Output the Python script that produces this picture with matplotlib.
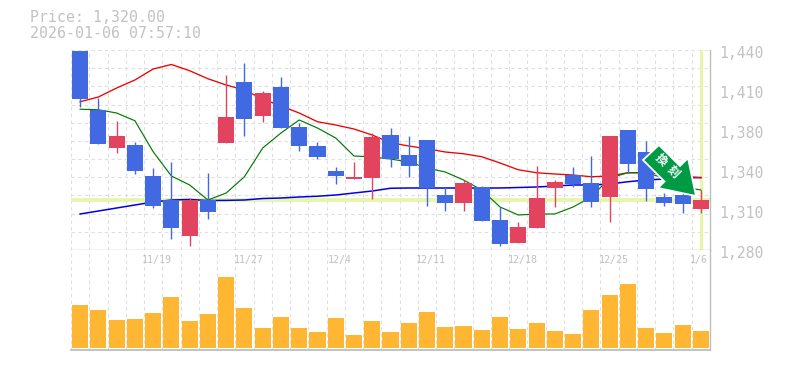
import matplotlib
matplotlib.use("Agg")
import matplotlib.pyplot as plt
from matplotlib.patches import Polygon, Rectangle
from matplotlib.transforms import offset_copy

W, H = 785, 370
MONO = "DejaVu Sans Mono"
GRAY = "#c2c2c2"
GRID = "#dedede"
FRAME = "#bdbdbd"
UP = "#e2445f"
DOWN = "#4169e1"
VOLC = "#ffb733"
GUIDE = "#e6f5a8"

title_lines = ["Price: 1,320.00", "2026-01-06 07:57:10"]
price_ticks = [1440, 1408, 1376, 1344, 1312, 1280]
price_labels = ["1,440", "1,410", "1,380", "1,340", "1,310", "1,280"]
date_pos = [4, 9, 14, 19, 24, 29, 34]
date_labels = ["11/19", "11/27", "12/4", "12/11", "12/18", "12/25", "1/6"]
last_price = 1320

body_top = [1439.4, 1392, 1371.2, 1364, 1339.2, 1320, 1320, 1320, 1386.4, 1414.4, 1405.6, 1410.4,
            1378.4, 1363.2, 1343.2, 1338.4, 1370.4, 1372, 1356, 1368, 1324, 1333.6, 1330.4, 1304,
            1298.4, 1321.6, 1334.4, 1340, 1333.6, 1371.2, 1376, 1358.4, 1322.4, 1324, 1320]
body_bot = [1400.8, 1365, 1361.8, 1343.2, 1315.2, 1297.6, 1291.2, 1310.4, 1365.6, 1385, 1387.2, 1377.6,
            1363.2, 1354.4, 1339.2, 1336.8, 1337.6, 1352.8, 1347.2, 1329.6, 1317.6, 1317.6, 1303.2, 1284.8,
            1285.6, 1297.6, 1329.6, 1332.8, 1318.4, 1322.4, 1348.8, 1328.8, 1317.6, 1316.8, 1312.8]
high = [1439.4, 1401.6, 1383.2, 1366.4, 1345.6, 1350.4, 1321.6, 1341.6, 1420, 1429.6, 1407.2, 1418.4,
        1381.6, 1366.4, 1346.4, 1350.4, 1373.6, 1377.6, 1371.2, 1368, 1330.4, 1336, 1331.2, 1314.4,
        1302.4, 1347.2, 1336, 1346.4, 1355.2, 1371.2, 1376, 1367.2, 1325.6, 1325.6, 1328]
low = [1394.6, 1365, 1357.8, 1340.8, 1313.6, 1288.8, 1283.2, 1304.8, 1365.6, 1371.2, 1382.4, 1377.6,
       1359.2, 1352.8, 1332.8, 1336.8, 1320.8, 1346.4, 1338.4, 1315.2, 1311.2, 1311.2, 1303.2, 1283.2,
       1285.6, 1297.6, 1314.4, 1330.4, 1314.4, 1302.4, 1341.6, 1319.2, 1315.2, 1309.6, 1309.6]
is_up = [0, 0, 1, 0, 0, 0, 1, 0, 1, 0, 1, 0,
         0, 0, 0, 1, 1, 0, 0, 0, 0, 1, 0, 0,
         1, 1, 1, 0, 0, 1, 0, 0, 0, 0, 1]
ma_short = [1392.6, 1392.2, 1389.6, 1383.4, 1358.6, 1339.2, 1332, 1320, 1325.6, 1338.6, 1361.6, 1373.6,
            1384, 1377.6, 1369.6, 1355.2, 1354.4, 1352.8, 1350.4, 1345.6, 1342.4, 1336, 1328, 1314.4,
            1308, 1308.8, 1308.8, 1314.4, 1322.4, 1337.6, 1341.8, 1341.8, 1337.6, 1330.4, 1328]
ma_mid = [1398.6, 1402.4, 1409.6, 1416, 1424.8, 1428.4, 1423.4, 1417, 1412, 1408, 1400.8, 1395.2,
          1389.6, 1382.6, 1380, 1376.8, 1372, 1365.8, 1363.2, 1361, 1358.4, 1357, 1354.6, 1349.6,
          1344.2, 1341.8, 1340.8, 1340, 1338.6, 1339.2, 1341.8, 1341.8, 1340.8, 1339.2, 1337.8]
ma_long = [1308.8, 1311.2, 1313.6, 1316, 1318.4, 1320, 1320.4, 1319.6, 1319.7, 1320, 1321.2, 1321.6,
           1322.4, 1323, 1324, 1325.6, 1327.2, 1329.4, 1329.6, 1329.6, 1329.6, 1329.6, 1329.6, 1329.6,
           1330, 1330.4, 1331.2, 1332, 1332, 1332.8, 1334.6, 1336, 1336.8, 1337.6, 1338]
volume = [43, 38, 28, 29, 35, 51, 27, 34, 71, 40, 20, 31, 20, 16, 30, 13, 27, 16,
          25, 36, 21, 22, 18, 31, 19, 25, 17, 14, 38, 53, 64, 20, 15, 23, 17]
badge_text = "換刻"

fig = plt.figure(figsize=(W / 100, H / 100), dpi=100, facecolor="white")
def axes_px(x0, y0, x1, y1):
    return fig.add_axes([x0 / W, 1 - y1 / H, (x1 - x0) / W, (y1 - y0) / H])

XL, XR = 71, 710
ax = axes_px(XL, 50, XR, 250)
vol = axes_px(XL, 250, XR, 350)
n = len(volume)
GRID_STYLE = dict(color=GRID, lw=0.8, ls=(0, (3, 3)))
for a in (ax, vol):
    a.set_xlim(-0.5, n - 0.5)
    for s in a.spines.values():
        s.set_visible(False)
    a.tick_params(length=0, labelbottom=False, labelleft=False)
    a.set_xticks([i - 0.5 for i in range(n)])
    a.grid(axis="x", **GRID_STYLE)
    a.set_axisbelow(True)
    a.spines["right"].set_visible(True)
    a.spines["right"].set_color(FRAME)
    a.spines["right"].set_linewidth(1.0)

ax.set_ylim(1280, 1440)
ax.set_yticks([1280 + 160 * k / 11 for k in range(12)])
ax.grid(axis="y", **GRID_STYLE)
ax.spines["bottom"].set_visible(True)
ax.spines["bottom"].set_color(FRAME)
ax.spines["bottom"].set_linewidth(1.0)

ax.axhline(last_price, color=GUIDE, lw=2.7, zorder=1)
ax.axvline(n - 1, color=GUIDE, lw=2.2, zorder=1)

xs = list(range(n))
ax.plot(xs, ma_long, color="#0000e6", lw=1.1, zorder=2)
ax.plot(xs, ma_mid, color="#f00000", lw=0.95, zorder=2)
ax.plot(xs, ma_short, color="#007a00", lw=0.85, zorder=2)

for i in xs:
    c = UP if is_up[i] else DOWN
    ax.plot([i, i], [low[i], high[i]], color=c, lw=1.0, zorder=3, solid_capstyle="butt")
    ax.add_patch(Rectangle((i - 0.44, body_bot[i]), 0.88, body_top[i] - body_bot[i],
                           facecolor=c, edgecolor="none", zorder=4))

vol.set_ylim(-2, 98)
vol.bar(xs, volume, width=0.88, color=VOLC, zorder=3)
vol.spines["bottom"].set_visible(True)
vol.spines["bottom"].set_color(FRAME)
vol.spines["bottom"].set_linewidth(1.3)

for p, lab in zip(date_pos, date_labels):
    last = p == date_pos[-1]
    tr = offset_copy(vol.get_xaxis_transform(), fig=fig, x=(-2 if last else 4), y=-10, units="dots")
    vol.text(p, 1, lab, transform=tr, ha="center", va="center", family=MONO,
             fontsize=7.2, color=GRAY, zorder=5)

tr = offset_copy(ax.get_yaxis_transform(), fig=fig, x=9, y=-3, units="dots")
for p, lab in zip(price_ticks, price_labels):
    ax.text(1, p, lab, transform=tr, ha="left", va="center", family=MONO,
            fontsize=10.6, color=GRAY, clip_on=False)

for yy, line in zip((18, 33), title_lines):
    fig.text(30 / W, 1 - yy / H, line, family=MONO, fontsize=10.7, color=GRAY, ha="left", va="center")

# Badge: a green arrow pointing down-right, drawn in figure pixels
def fig_pts(pts):
    return [(x / W, 1 - y / H) for x, y in pts]
arrow = [(659, 145), (680, 166), (688, 158), (696, 196), (658, 188), (664.5, 181.5), (643, 160)]
fig.add_artist(Polygon(fig_pts(arrow), closed=True, facecolor="#009944", edgecolor="white",
                       lw=1.3, joinstyle="miter", transform=fig.transFigure, zorder=10))
for ch, (cx, cy) in zip(badge_text, [(661, 160), (673, 172)]):
    fig.text(cx / W, 1 - cy / H, ch, family="Noto Sans CJK JP", fontsize=8.5, color="white",
             weight="bold", rotation=-45, ha="center", va="center", zorder=11)

fig.savefig("out.png", dpi=100)
